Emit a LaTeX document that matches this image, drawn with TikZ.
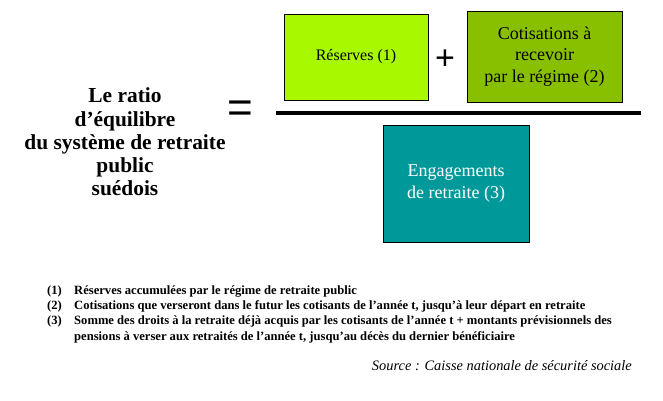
\documentclass[tikz,border=0pt]{standalone}
\usepackage{fontspec}
\setmainfont{Liberation Serif}
\newfontfamily\symfont{Liberation Sans}
\definecolor{cA}{RGB}{168,248,0}
\definecolor{cB}{RGB}{136,192,0}
\definecolor{cC}{RGB}{0,153,153}
\begin{document}
\begin{tikzpicture}[x=1pt,y=-1pt,
  box/.style={draw=black,line width=0.8pt,inner sep=0pt,align=center,font=\fontsize{18}{21.5}\selectfont},
  foot/.style={anchor=base west,inner sep=0pt,font=\bfseries\fontsize{12.6}{15}\selectfont}]
\useasboundingbox (0,0) rectangle (663,400);
\node[box,fill=cA,minimum width=144pt,minimum height=86pt,font=\fontsize{16}{19}\selectfont] (res) at (356,57) {Réserves (1)};
\node[box,fill=cB,minimum width=155pt,minimum height=91pt] (cot) at (544.5,56.5) {Cotisations à\\recevoir\\par le régime (2)};
\node[box,fill=cC,text=white,minimum width=146pt,minimum height=117pt] (eng) at (456,183.5) {Engagements\\de retraite (3)};
\node[font=\symfont\fontsize{34}{34}\selectfont,inner sep=0pt] (plus) at (445,60) {+};
\node[font=\symfont\fontsize{44}{44}\selectfont,inner sep=0pt] (eq) at (240,112) {=};
\coordinate (l1) at (276,113);
\coordinate (l2) at (641,113);
\draw[line width=4pt] (l1) -- (l2);
\node[align=center,font=\bfseries\fontsize{21.4}{23.2}\selectfont,inner sep=0pt] (ratio) at (125,142) {Le ratio\\d’équilibre\\du système de retraite\\public\\suédois};
\node[foot] (n1) at (47,294) {(1)};
\node[foot] (t1) at (74,294) {Réserves accumulées par le régime de retraite public};
\node[foot] (n2) at (47,309) {(2)};
\node[foot] (t2) at (74,309) {Cotisations que verseront dans le futur les cotisants de l’année t, jusqu’à leur départ en retraite};
\node[foot] (n3) at (47,324) {(3)};
\node[foot] (t3) at (74,324) {Somme des droits à la retraite déjà acquis par les cotisants de l’année t + montants prévisionnels des};
\node[foot] (t4) at (74,340) {pensions à verser aux retraités de l’année t, jusqu’au décès du dernier bénéficiaire};
\node[anchor=base east,inner sep=0pt,font=\itshape\fontsize{14.4}{17}\selectfont] (src) at (632,370) {Source : Caisse nationale de sécurité sociale};
\end{tikzpicture}
\end{document}
